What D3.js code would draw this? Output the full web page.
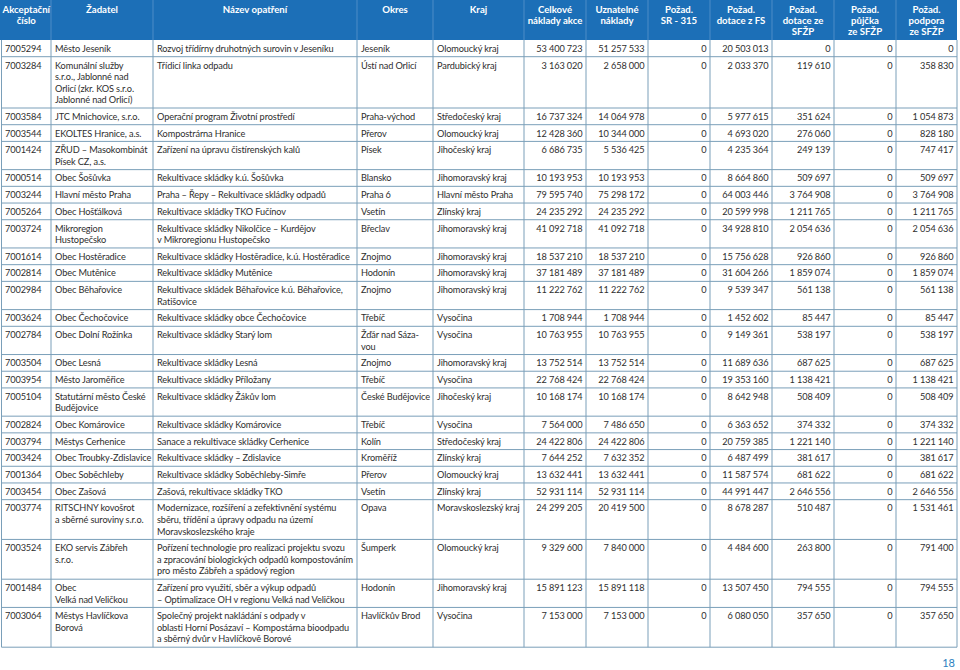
<!DOCTYPE html>
<html><head><meta charset="utf-8">
<script src="https://cdn.jsdelivr.net/npm/d3@7"></script>
<style>
body{margin:0;background:#fff}
svg{display:block}
text{font-family:Lato,"Open Sans",sans-serif}
</style>
</head><body>
<svg id="chart" width="960" height="670"></svg>
<script>
// ---------- DATA ----------
const headers = [
  "Akceptační\nčíslo", "Žadatel", "Název opatření", "Okres", "Kraj",
  "Celkové\nnáklady akce", "Uznatelné\nnáklady", "Požad.\nSR - 315", "Požad.\ndotace z FS",
  "Požad.\ndotace ze\nSFŽP", "Požad.\npůjčka\nze SFŽP", "Požad.\npodpora\nze SFŽP"
];
const ids = ["7005294","7003284","7003584","7003544","7001424","7000514","7003244","7005264","7003724",
  "7001614","7002814","7002984","7003624","7002784","7003504","7003954","7005104","7002824","7003794",
  "7003424","7001364","7003454","7003774","7003524","7001484","7003064"];
const applicants = [
  "Město Jeseník",
  "Komunální služby\ns.r.o., Jablonné nad\nOrlicí (zkr. KOS s.r.o.\nJablonné nad Orlicí)",
  "JTC Mnichovice, s.r.o.",
  "EKOLTES Hranice, a.s.",
  "ZŘUD – Masokombinát\nPísek CZ, a.s.",
  "Obec Šošůvka",
  "Hlavní město Praha",
  "Obec Hošťálková",
  "Mikroregion\nHustopečsko",
  "Obec Hostěradice",
  "Obec Mutěnice",
  "Obec Běhařovice",
  "Obec Čechočovice",
  "Obec Dolní Rožínka",
  "Obec Lesná",
  "Město Jaroměřice",
  "Statutární město České\nBudějovice",
  "Obec Komárovice",
  "Městys Cerhenice",
  "Obec Troubky-Zdislavice",
  "Obec Soběchleby",
  "Obec Zašová",
  "RITSCHNY kovošrot\na sběrné suroviny s.r.o.",
  "EKO servis Zábřeh\ns.r.o.",
  "Obec\nVelká nad Veličkou",
  "Městys Havlíčkova\nBorová"
];
const projects = [
  "Rozvoj třídírny druhotných surovin v Jeseníku",
  "Třídicí linka odpadu",
  "Operační program Životní prostředí",
  "Kompostrárna Hranice",
  "Zařízení na úpravu čistírenských kalů",
  "Rekultivace skládky k.ú. Šošůvka",
  "Praha – Řepy – Rekultivace skládky odpadů",
  "Rekultivace skládky TKO Fučínov",
  "Rekultivace skládky Nikolčice – Kurdějov\nv Mikroregionu Hustopečsko",
  "Rekultivace skládky Hostěradice, k.ú. Hostěradice",
  "Rekultivace skládky Mutěnice",
  "Rekultivace skládek Běhařovice k.ú. Běhařovice,\nRatišovice",
  "Rekultivace skládky obce Čechočovice",
  "Rekultivace skládky Starý lom",
  "Rekultivace skládky Lesná",
  "Rekultivace skládky Příložany",
  "Rekultivace skládky Žákův lom",
  "Rekultivace skládky Komárovice",
  "Sanace a rekultivace skládky Cerhenice",
  "Rekultivace skládky – Zdislavice",
  "Rekultivace skládky Soběchleby-Simře",
  "Zašová, rekultivace skládky TKO",
  "Modernizace, rozšíření a zefektivnění systému\nsběru, třídění a úpravy odpadu na území\nMoravskoslezského kraje",
  "Pořízení technologie pro realizaci projektu svozu\na zpracování biologických odpadů kompostováním\npro město Zábřeh a spádový region",
  "Zařízení pro využití, sběr a výkup odpadů\n– Optimalizace OH v regionu Velká nad Veličkou",
  "Společný projekt nakládání s odpady v\noblasti Horní Posázaví – Kompostárna bioodpadu\na sběrný dvůr v Havlíčkově Borové"
];
const districts = ["Jeseník","Ústí nad Orlicí","Praha-východ","Přerov","Písek","Blansko","Praha 6","Vsetín",
  "Břeclav","Znojmo","Hodonín","Znojmo","Třebíč","Žďár nad Sáza-\nvou","Znojmo","Třebíč","České Budějovice",
  "Třebíč","Kolín","Kroměříž","Přerov","Vsetín","Opava","Šumperk","Hodonín","Havlíčkův Brod"];
const regions = ["Olomoucký kraj","Pardubický kraj","Středočeský kraj","Olomoucký kraj","Jihočeský kraj",
  "Jihomoravský kraj","Hlavní město Praha","Zlínský kraj","Jihomoravský kraj","Jihomoravský kraj",
  "Jihomoravský kraj","Jihomoravský kraj","Vysočina","Vysočina","Jihomoravský kraj","Vysočina",
  "Jihočeský kraj","Vysočina","Středočeský kraj","Zlínský kraj","Olomoucký kraj","Zlínský kraj",
  "Moravskoslezský kraj","Olomoucký kraj","Jihomoravský kraj","Vysočina"];
const totalCosts = [53400723,3163020,16737324,12428360,6686735,10193953,79595740,24235292,41092718,
  18537210,37181489,11222762,1708944,10763955,13752514,22768424,10168174,7564000,24422806,7644252,
  13632441,52931114,24299205,9329600,15891123,7153000];
const eligibleCosts = [51257533,2658000,14064978,10344000,5536425,10193953,75298172,24235292,41092718,
  18537210,37181489,11222762,1708944,10763955,13752514,22768424,10168174,7486650,24422806,7632352,
  13632441,52931114,20419500,7840000,15891118,7153000];
const requestSR315 = [0,0,0,0,0,0,0,0,0,0,0,0,0,0,0,0,0,0,0,0,0,0,0,0,0,0];
const requestFS = [20503013,2033370,5977615,4693020,4235364,8664860,64003446,20599998,34928810,
  15756628,31604266,9539347,1452602,9149361,11689636,19353160,8642948,6363652,20759385,6487499,
  11587574,44991447,8678287,4484600,13507450,6080050];
const grantSFZP = [0,119610,351624,276060,249139,509697,3764908,1211765,2054636,926860,1859074,561138,
  85447,538197,687625,1138421,508409,374332,1221140,381617,681622,2646556,510487,263800,794555,357650];
const loanSFZP = [0,0,0,0,0,0,0,0,0,0,0,0,0,0,0,0,0,0,0,0,0,0,0,0,0,0];
const supportSFZP = [0,358830,1054873,828180,747417,509697,3764908,1211765,2054636,926860,1859074,561138,
  85447,538197,687625,1138421,508409,374332,1221140,381617,681622,2646556,1531461,791400,794555,357650];
const pageNumber = "18";

// ---------- LAYOUT ----------
const textCols = [ids, applicants, projects, districts, regions];
const numCols = [totalCosts, eligibleCosts, requestSR315, requestFS, grantSFZP, loanSFZP, supportSFZP];
const colEdges = [1.5, 51, 153, 357, 433, 524, 586, 648, 710, 772, 834, 896, 957];
const colIdx = d3.range(headers.length);
const xLeft = d3.scaleOrdinal().domain(colIdx).range(colEdges.slice(0, -1));
const xRight = d3.scaleOrdinal().domain(colIdx).range(colEdges.slice(1));

const headerTop = 0, headerH = 40;
const lineH = 11.6;
const heightScale = d3.scaleLinear().domain([1, 4]).range([16.7, 51.3]);

const rows = ids.map((id, i) => {
  const cells = textCols.map(c => c[i].split("\n"));
  const nLines = d3.max(cells, c => c.length);
  return { i, id, cells, nums: numCols.map(c => c[i]), nLines };
});
const heights = rows.map(r => heightScale(r.nLines));
const tops = d3.cumsum([headerH, ...heights]).slice(0, -1);
const yTop = d3.scaleOrdinal().domain(ids).range(tops.map(t => t + headerTop));
const tableBottom = headerTop + headerH + d3.sum(heights);

const fmt = d3.formatLocale({decimal: ",", thousands: " ", grouping: [3], currency: ["", ""]}).format(",d");

const svg = d3.select("#chart");
const BLUE = "#1c6fb7", GRID = "#7a9fb9", TXT = "#2e2e2e";
const FS = 9.2;

// header
svg.append("rect").attr("x", xLeft(0) - 1.5).attr("y", headerTop)
  .attr("width", xRight(11) - xLeft(0) + 1.5).attr("height", headerH).attr("fill", BLUE);
svg.append("g").selectAll("line").data(colIdx.slice(1)).join("line")
  .attr("x1", d => xLeft(d)).attr("x2", d => xLeft(d))
  .attr("y1", headerTop).attr("y2", headerTop + headerH)
  .attr("stroke", "#5a96cc").attr("stroke-width", 0.8);
const hg = svg.append("g").attr("fill", "#fff").attr("font-weight", 700).attr("font-size", 9.6).attr("text-anchor", "middle");
headers.forEach((h, j) => {
  const t = hg.append("text").attr("x", (xLeft(j) + xRight(j)) / 2);
  h.split("\n").forEach((ln, k) => {
    t.append("tspan").attr("x", (xLeft(j) + xRight(j)) / 2).attr("y", headerTop + 12.5 + k * 11.3).text(ln);
  });
});

// body rows
const body = svg.append("g").attr("font-size", FS).attr("letter-spacing", -0.12).attr("fill", TXT);
rows.forEach(r => {
  const y0 = yTop(r.id);
  r.cells.forEach((lines, j) => {
    const t = body.append("text");
    lines.forEach((ln, k) => {
      t.append("tspan").attr("x", xLeft(j) + (j === 0 ? 3.5 : 4)).attr("y", y0 + 11.8 + k * lineH).text(ln);
    });
  });
  r.nums.forEach((v, m) => {
    const j = 5 + m;
    body.append("text").attr("text-anchor", "end")
      .attr("x", xRight(j) - 3.5).attr("y", y0 + 11.8).text(fmt(v));
  });
});

// grid
const grid = svg.append("g").attr("stroke", GRID).attr("stroke-width", 1).attr("fill", "none");
grid.selectAll("line.h").data([...tops.slice(1), tableBottom]).join("line").attr("class", "h")
  .attr("x1", xLeft(0)).attr("x2", xRight(11)).attr("y1", d => d).attr("y2", d => d);
grid.selectAll("line.v").data(colEdges).join("line").attr("class", "v")
  .attr("x1", d => d).attr("x2", d => d).attr("y1", headerTop + headerH).attr("y2", tableBottom);

// page number
svg.append("text").attr("x", 955).attr("y", 667).attr("text-anchor", "end")
  .attr("font-size", 11).attr("fill", "#2c7fc0").text(pageNumber);
</script>
</body></html>
